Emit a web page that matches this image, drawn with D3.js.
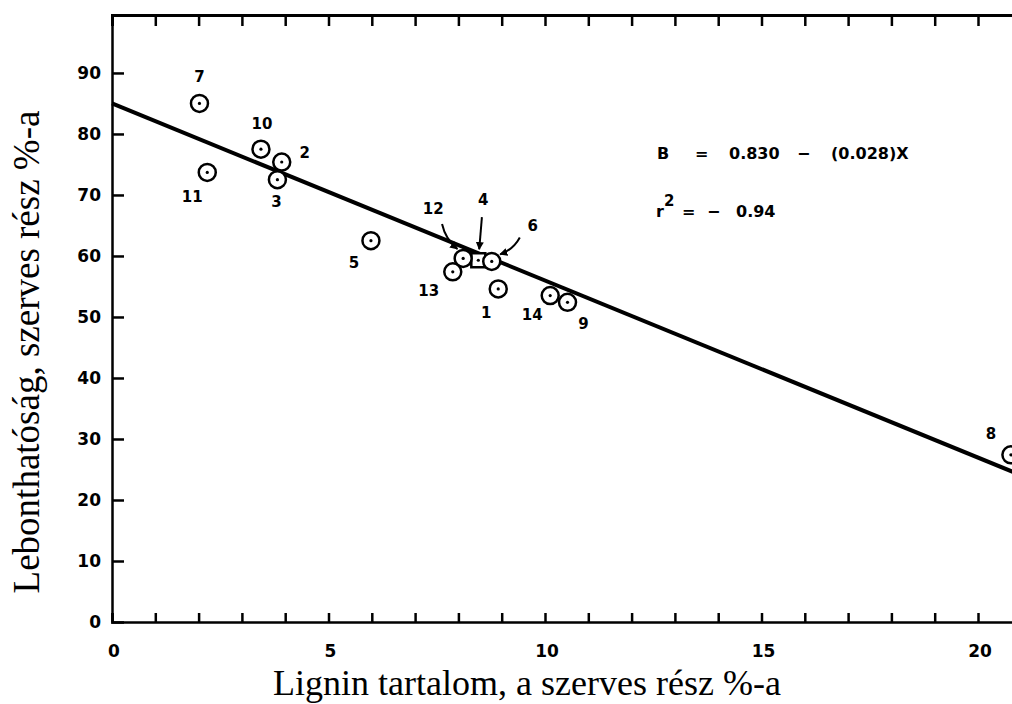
<!DOCTYPE html>
<html>
<head>
<meta charset="utf-8">
<script src="https://cdn.jsdelivr.net/npm/d3@7"></script>
<style>
    body { margin: 0; background: #fff; }
    svg { display: block; }
    .tick-label { font-family: "DejaVu Sans", sans-serif; font-weight: bold; font-size: 17px; fill: #000; }
    .pt-label { font-family: "DejaVu Sans", sans-serif; font-weight: bold; font-size: 15px; fill: #000; }
    .title { font-family: "Liberation Serif", serif; font-size: 36px; fill: #000; }
    .eq { font-family: "DejaVu Sans", sans-serif; font-weight: bold; font-size: 16px; fill: #000; }
</style>
</head>
<body>
<svg id="chart" width="1012" height="704"></svg>
<script>
/* data */
var POINT_IDS = [1, 2, 3, 4, 5, 6, 7, 8, 9, 10, 11, 12, 13, 14];
var LIGNIN = [8.92, 3.92, 3.82, 8.46, 5.98, 8.77, 2.02, 20.76, 10.52, 3.44, 2.20, 8.11, 7.87, 10.12];
var DEGRADABILITY = [54.6, 75.4, 72.5, 59.3, 62.5, 59.1, 85.0, 27.4, 52.4, 77.5, 73.7, 59.6, 57.4, 53.5];

/* fitted line B = 0.830 - 0.028X drawn as in the figure (percent units) */
var FIT_X = [0, 21.5];
var FIT_Y = [85.0, 22.6];

var X_TICK_LABELS = [0, 5, 10, 15, 20];
var Y_TICK_LABELS = [0, 10, 20, 30, 40, 50, 60, 70, 80, 90];

var X_TITLE = "Lignin tartalom, a szerves rész %-a";
var Y_TITLE = "Lebonthatóság, szerves rész %-a";
var EQ_TOKENS = ["B", "=", "0.830", "\u2212", "(0.028)X"];
var R2_TOKENS = ["=", "\u2212", "0.94"];

/* label placement, pixels from the point centre */
var LABEL_OFFSET = {
    1: [-12, 24], 2: [23, -9], 3: [-1, 22], 4: [5, -60], 5: [-17, 22], 6: [41, -35], 7: [0, -26],
    8: [-20, -21], 9: [16, 22], 10: [1, -25], 11: [-15, 25], 12: [-30, -49], 13: [-24, 19], 14: [-18, 19]
};
var ARROW_IDS = [12, 4, 6];

function init() {
    var svg = d3.select("#chart");

    var x = d3.scaleLinear().domain([0, 21.5]).range([112, 112 + 21.5 * 43.3]);
    var y = d3.scaleLinear().domain([0, 99.5]).range([622, 15]);

    var points = POINT_IDS.map(function (id, i) {
        return {id: id, x: LIGNIN[i], y: DEGRADABILITY[i]};
    });

    svg.append("defs").append("marker")
        .attr("id", "head")
        .attr("viewBox", "0 0 10 10")
        .attr("refX", 9).attr("refY", 5)
        .attr("markerWidth", 4).attr("markerHeight", 4)
        .attr("orient", "auto")
        .append("path").attr("d", "M0,0L10,5L0,10z").attr("fill", "#000");

    drawAxes(svg, x, y);

    /* regression line */
    var line = d3.line()
        .x(function (d) { return x(d[0]); })
        .y(function (d) { return y(d[1]); });
    svg.append("path")
        .attr("d", line(d3.zip(FIT_X, FIT_Y)))
        .attr("fill", "none")
        .attr("stroke", "#000")
        .attr("stroke-width", 4);

    drawPoints(svg, x, y, points);
    drawEquation(svg);

    /* axis titles */
    svg.append("text").attr("class", "title")
        .attr("x", 527).attr("y", 695)
        .attr("text-anchor", "middle")
        .text(X_TITLE);
    svg.append("text").attr("class", "title")
        .attr("transform", "translate(39,352) rotate(-90)")
        .attr("text-anchor", "middle")
        .style("font-size", "37px")
        .text(Y_TITLE);
}

function drawEquation(svg) {
    var eqX = [657, 695, 729, 797, 831];
    svg.selectAll(".eq1").data(EQ_TOKENS).enter()
        .append("text").attr("class", "eq")
        .attr("x", function (d, i) { return eqX[i]; })
        .attr("y", 159)
        .text(function (d) { return d; });

    var r2 = svg.append("text").attr("class", "eq").attr("x", 656).attr("y", 217);
    r2.append("tspan").text("r");
    r2.append("tspan").attr("dy", -11).style("font-size", "15px").text("2");
    var r2X = [682, 707, 736];
    svg.selectAll(".eq2").data(R2_TOKENS).enter()
        .append("text").attr("class", "eq")
        .attr("x", function (d, i) { return r2X[i]; })
        .attr("y", 217)
        .text(function (d) { return d; });
}

function drawAxes(svg, x, y) {
    var frame = svg.append("g").attr("class", "frame");

    /* bottom: minor ticks each unit, labels every 5 */
    frame.append("g")
        .attr("transform", "translate(0," + y(0) + ")")
        .call(d3.axisTop(x).tickValues(d3.range(0, 22)).tickSize(9).tickFormat(""))
        .call(styleAxis, 2.5);
    frame.append("g")
        .attr("transform", "translate(0," + y(99.5) + ")")
        .call(d3.axisBottom(x).tickValues(d3.range(1, 22)).tickSize(11).tickFormat(""))
        .call(styleAxis, 3);
    frame.append("g")
        .attr("transform", "translate(" + x(0) + ",0)")
        .call(d3.axisRight(y).tickValues(Y_TICK_LABELS.slice(1)).tickSize(12).tickFormat(""))
        .call(styleAxis, 2.5);

    frame.selectAll(".x-label")
        .data(X_TICK_LABELS).enter()
        .append("text")
        .attr("class", "tick-label")
        .attr("x", function (d) { return x(d) + 2; })
        .attr("y", 657)
        .attr("text-anchor", "middle")
        .text(function (d) { return d; });

    frame.selectAll(".y-label")
        .data(Y_TICK_LABELS).enter()
        .append("text")
        .attr("class", "tick-label")
        .attr("x", 101)
        .attr("y", function (d) { return y(d) + 6; })
        .attr("text-anchor", "end")
        .text(function (d) { return d; });
}

function styleAxis(g, w) {
    g.select(".domain").attr("stroke", "#000").attr("stroke-width", w);
    g.selectAll(".tick line").attr("stroke", "#000").attr("stroke-width", 2.5);
}

function drawPoints(svg, x, y, points) {
    var g = svg.append("g").attr("class", "points");

    /* point 4 is hidden behind its neighbours, shown as a small box */
    var order = points.slice().sort(function (a, b) { return (a.id === 4 ? -1 : 0) - (b.id === 4 ? -1 : 0); });

    var marks = g.selectAll(".pt").data(order).enter()
        .append("g").attr("class", "pt")
        .attr("transform", function (d) { return "translate(" + x(d.x) + "," + y(d.y) + ")"; });

    marks.filter(function (d) { return d.id !== 4; })
        .append("circle")
        .attr("r", 8.5)
        .attr("fill", "#fff")
        .attr("stroke", "#000")
        .attr("stroke-width", 2.5);
    marks.filter(function (d) { return d.id === 4; })
        .append("rect")
        .attr("x", -7).attr("y", -7).attr("width", 14).attr("height", 14)
        .attr("fill", "#fff")
        .attr("stroke", "#000")
        .attr("stroke-width", 2.5);
    marks.append("circle").attr("r", 1.6).attr("fill", "#000");

    g.selectAll(".pt-label").data(points).enter()
        .append("text")
        .attr("class", "pt-label")
        .attr("x", function (d) { return x(d.x) + LABEL_OFFSET[d.id][0]; })
        .attr("y", function (d) { return y(d.y) + LABEL_OFFSET[d.id][1] + 5; })
        .attr("text-anchor", "middle")
        .text(function (d) { return d.id; });

    /* arrows from label towards the crowded points */
    var arrowPts = points.filter(function (d) { return ARROW_IDS.indexOf(d.id) >= 0; });
    g.selectAll(".arrow").data(arrowPts).enter()
        .append("path")
        .attr("class", "arrow")
        .attr("fill", "none")
        .attr("stroke", "#000")
        .attr("stroke-width", 2)
        .attr("marker-end", "url(#head)")
        .attr("d", function (d) {
            var px = x(d.x), py = y(d.y);
            var lx = px + LABEL_OFFSET[d.id][0], ly = py + LABEL_OFFSET[d.id][1];
            var dx = px - lx, dy = py - ly, len = Math.sqrt(dx * dx + dy * dy);
            var ux = dx / len, uy = dy / len;
            var sx = lx + ux * 17, sy = ly + uy * 17;
            var ex = px - ux * 11, ey = py - uy * 11;
            var bend = d.id === 4 ? 0 : (d.id === 12 ? 5 : -5);
            var cx = (sx + ex) / 2 - uy * bend, cy = (sy + ey) / 2 + ux * bend;
            return "M" + sx + "," + sy + "Q" + cx + "," + cy + " " + ex + "," + ey;
        });
}

init();
</script>
</body>
</html>
